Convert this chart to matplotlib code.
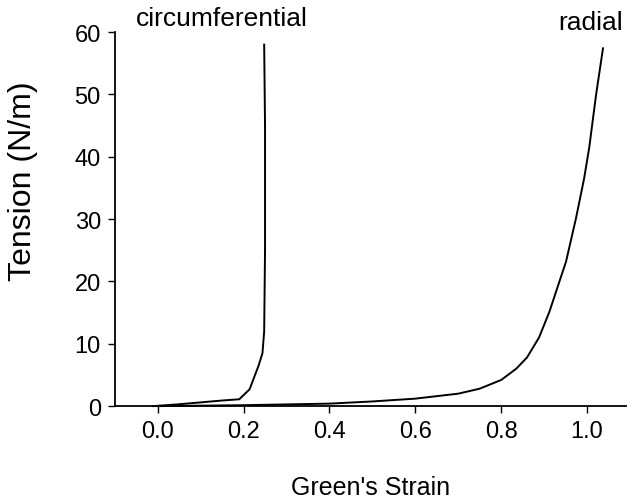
import matplotlib.pyplot as plt

plt.rcParams["font.family"] = ["Liberation Sans", "DejaVu Sans"]

circ_strain = [-0.01, 0.05, 0.10, 0.15, 0.19, 0.214, 0.235, 0.244, 0.248, 0.250, 0.250, 0.248]
circ_tension = [0.0, 0.3, 0.6, 0.9, 1.1, 2.7, 6.5, 8.5, 12.0, 25.0, 45.0, 58.0]

radial_strain = [0.0, 0.2, 0.4, 0.5, 0.6, 0.7, 0.75, 0.8, 0.835, 0.86, 0.888,
                 0.912, 0.951, 0.974, 0.993, 1.005, 1.021, 1.037]
radial_tension = [0.0, 0.15, 0.4, 0.75, 1.2, 2.0, 2.8, 4.2, 6.0, 7.8, 11.0,
                  15.1, 23.2, 30.1, 36.5, 41.5, 50.0, 57.4]

x_ticks = [0.0, 0.2, 0.4, 0.6, 0.8, 1.0]
y_ticks = [0, 10, 20, 30, 40, 50, 60]

fig = plt.figure(figsize=(6.27, 5.02), dpi=100)
ax = fig.add_axes([0.183, 0.189, 0.815, 0.745])

ax.plot(circ_strain, circ_tension, color="black", linewidth=1.4, clip_on=False)
ax.plot(radial_strain, radial_tension, color="black", linewidth=1.4, clip_on=False)

ax.set_xlim(-0.1, 1.09)
ax.set_ylim(0, 60)
ax.set_xticks(x_ticks)
ax.set_xticklabels([f"{v:.1f}" for v in x_ticks])
ax.set_yticks(y_ticks)

for side in ("top", "right"):
    ax.spines[side].set_visible(False)
for side in ("left", "bottom"):
    ax.spines[side].set_linewidth(1.3)
ax.tick_params(direction="out", length=5, width=1, labelsize=17, pad=5)

ax.text(0.149, 62.2, "circumferential", ha="center", va="center", fontsize=19, clip_on=False)
ax.text(1.009, 61.7, "radial", ha="center", va="center", fontsize=19, clip_on=False)

ax.set_xlabel("Green's Strain", fontsize=18, labelpad=24)
ax.set_ylabel("Tension (N/m)", fontsize=23, va="center")
ax.yaxis.set_label_coords(-0.18, 0.603)

fig.savefig("out.png", dpi=100)
